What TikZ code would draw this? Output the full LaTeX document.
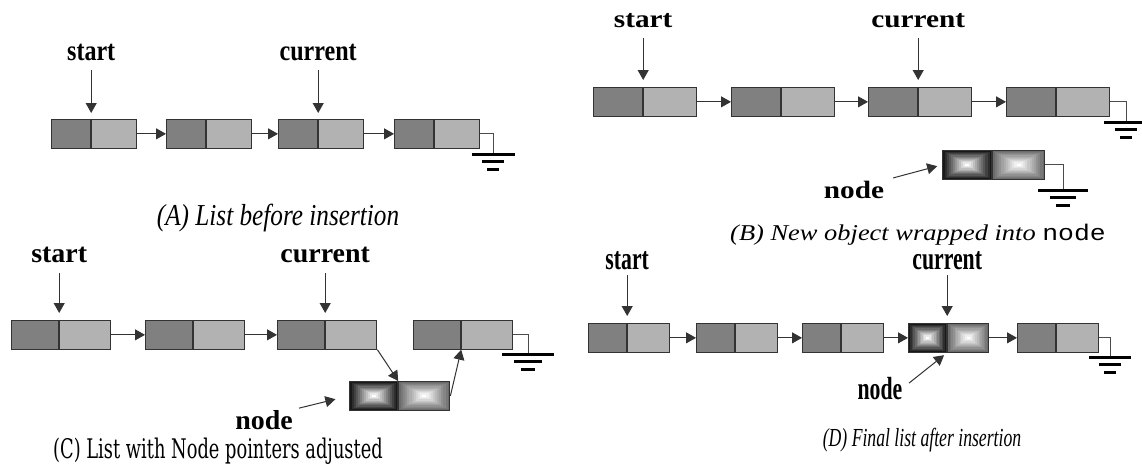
\documentclass[tikz,border=0pt]{standalone}
\usepackage{fontspec}
\usepackage{graphicx}
\setmainfont{Liberation Serif}
\newfontfamily\schoolC{DejaVu Serif}
\newfontfamily\codeB{Liberation Mono}
\usetikzlibrary{positioning,calc,arrows.meta}

% panel fonts: size, then horizontal squeeze of the scanned panels
\newcommand\sizeA{\fontsize{14.5pt}{17pt}\selectfont}
\newcommand\sizeB{\fontsize{12.5pt}{15pt}\selectfont}
\newcommand\sizeC{\fontsize{13.7pt}{16pt}\selectfont}
\newcommand\sizeD{\fontsize{16pt}{19pt}\selectfont}
\newcommand\sqA[1]{\scalebox{0.83}[1]{#1}}
\newcommand\sqB[1]{\scalebox{1.17}[1]{#1}}
\newcommand\sqC[1]{\scalebox{1.02}[1]{#1}}
\newcommand\sqD[1]{\scalebox{0.68}[1]{#1}}

\tikzset{
  dat/.style={draw=black!80, line width=0.6pt, fill=black!50, inner sep=0pt,
    minimum width=#1, minimum height=14.25pt, anchor=north west},
  nxt/.style={dat=#1, fill=black!30, anchor=west},
  shd/.style 2 args={draw=black!80, line width=0.6pt, inner sep=0pt,
    minimum width=#1, minimum height=14.25pt, anchor=north west,
    path picture={
      \foreach \k in {0,...,11}{
        \pgfmathtruncatemacro\tone{#2+(100-#2)*\k/11}
        \fill[white!\tone!black]
          ($(path picture bounding box.north west)!\k/24!(path picture bounding box.south east)$)
          rectangle
          ($(path picture bounding box.south east)!\k/24!(path picture bounding box.north west)$);
      }}},
  shdL/.style={shd={#1}{10}},
  shdR/.style={shd={#1}{42}, anchor=west},
  ptr/.style={-{Triangle[length=5pt,width=5.5pt]}, line width=0.5pt, draw=black!80},
  wire/.style={line width=0.5pt, draw=black!70},
  lbl/.style={inner sep=0pt, font=#1\bfseries},
  cap/.style={inner sep=0pt, anchor=base, font=#1\itshape},
  gnd/.pic={
    \draw[line width=1.5pt] (-#1,0) -- (#1,0)
      (-0.52*#1,7.5) -- (0.52*#1,7.5)
      (-0.27*#1,15) -- (0.27*#1,15);
  }
}

\begin{document}
\begin{tikzpicture}[x=0.5pt,y=-0.5pt]
  \useasboundingbox (0,0) rectangle (1142,467);

  % (A) list before insertion
  \foreach \i/\x in {1/51,2/166,3/278,4/394}{
    \node[dat=19.5pt] (a\i) at (\x,119) {};
    \node[nxt=22.5pt, right=0pt of a\i] (a\i p) {};
  }
  \foreach \i/\j in {1/2,2/3,3/4}
    \draw[ptr] (a\i p) -- (a\j);
  \node[lbl=\sizeA, above=29pt of a1.north east] (startA) {\sqA{start}};
  \node[lbl=\sizeA, above=29pt of a3.north east] (curA) {\sqA{current}};
  \draw[ptr, shorten <=4.5pt, shorten >=3pt] (startA) -- (a1.north east);
  \draw[ptr, shorten <=4.5pt, shorten >=3pt] (curA) -- (a3.north east);
  \coordinate (gA) at (493,154);
  \draw[wire] (a4p) -| (gA);
  \pic at (gA) {gnd=21.5};
  \node[cap=\fontsize{15.2pt}{18pt}\selectfont] (capA) at (278,225)
    {\sqA{(A) List before insertion}};

  % (B) new object wrapped into node
  \foreach \i/\x in {1/593,2/731,3/868,4/1006}{
    \node[dat=24.5pt] (b\i) at (\x,87) {};
    \node[nxt=26.5pt, right=0pt of b\i] (b\i p) {};
  }
  \foreach \i/\j in {1/2,2/3,3/4}
    \draw[ptr] (b\i p) -- (b\j);
  \node[lbl=\sizeB, above=29.5pt of b1.north east] (startB) {\sqB{start}};
  \node[lbl=\sizeB, above=29.5pt of b3.north east] (curB) {\sqB{current}};
  \draw[ptr, shorten <=5pt, shorten >=3.5pt] (startB) -- (b1.north east);
  \draw[ptr, shorten <=5pt, shorten >=3.5pt] (curB) -- (b3.north east);
  \coordinate (gB) at (1126,122);
  \draw[wire] (b4p) -| (gB);
  \pic at (gB) {gnd=22};
  \node[shdL=24.5pt] (eB) at (942,150) {};
  \node[shdR=26pt, right=0pt of eB] (eBp) {};
  \coordinate (gB2) at (1063,190);
  \draw[wire] (eBp) -| (gB2);
  \pic at (gB2) {gnd=25};
  \node[lbl=\sizeB, anchor=base] (nodeB) at (854,198) {\sqB{node}};
  \draw[ptr, shorten <=4.5pt, shorten >=2.5pt] (nodeB.north east) -- (eB.west);
  \node[cap=\fontsize{11.3pt}{13pt}\selectfont] (capB) at (918,240)
    {\sqB{(B) New object wrapped into {\codeB\upshape node}}};

  % (C) list with node pointers adjusted
  \foreach \i/\x in {1/11,2/145,3/277,4/413}{
    \node[dat=23.5pt] (c\i) at (\x,320) {};
    \node[nxt=25.5pt, right=0pt of c\i] (c\i p) {};
  }
  \foreach \i/\j in {1/2,2/3}
    \draw[ptr] (c\i p) -- (c\j);
  \node[lbl=\sizeC, above=28.5pt of c1.north east] (startC) {\sqC{start}};
  \node[lbl=\sizeC, above=28.5pt of c3.north east] (curC) {\sqC{current}};
  \draw[ptr, shorten <=5pt, shorten >=3.5pt] (startC) -- (c1.north east);
  \draw[ptr, shorten <=5pt, shorten >=3.5pt] (curC) -- (c3.north east);
  \coordinate (gC) at (528,354);
  \draw[wire] (c4p) -| (gC);
  \pic at (gC) {gnd=26};
  \node[shdL=24pt] (eC) at (349,381) {};
  \node[shdR=25.5pt, right=0pt of eC] (eCp) {};
  \draw[ptr] (c3p.south east) -- (eC.north east);
  \draw[ptr] (eCp.east) -- (c4.south east);
  \node[lbl=\sizeC, anchor=base] (nodeC) at (264,429) {\sqC{node}};
  \draw[ptr, shorten <=3pt, shorten >=7pt] (nodeC.north east) -- (eC.west);
  \node[inner sep=0pt, anchor=base, font=\schoolC\fontsize{13.5pt}{16pt}\selectfont] (capC)
    at (218,458) {\scalebox{0.66}[1]{(C) List with Node pointers adjusted}};

  % (D) final list after insertion
  \foreach \i/\x in {1/588,2/696,3/802,4/1017}{
    \node[dat=19pt] (d\i) at (\x,323) {};
    \node[nxt=21pt, right=0pt of d\i] (d\i p) {};
  }
  \node[shdL=19pt] (eD) at (908,323) {};
  \node[shdR=20.5pt, right=0pt of eD] (eDp) {};
  \foreach \i/\j in {1/2,2/3}
    \draw[ptr] (d\i p) -- (d\j);
  \draw[ptr] (d3p) -- (eD);
  \draw[ptr] (eDp) -- (d4);
  \node[lbl=\sizeD, above=26.5pt of d1.north east] (startD) {\sqD{start}};
  \node[lbl=\sizeD, above=26.5pt of eD.north east] (curD) {\sqD{current}};
  \draw[ptr, shorten <=2.5pt, shorten >=3.5pt] (startD) -- (d1.north east);
  \draw[ptr, shorten <=2.5pt, shorten >=3.5pt] (curD) -- (eD.north east);
  \coordinate (gD) at (1110,357);
  \draw[wire] (d4p) -| (gD);
  \pic at (gD) {gnd=21};
  \node[lbl=\sizeD, anchor=base] (nodeD) at (880,399) {\sqD{node}};
  \draw[ptr, shorten <=4pt, shorten >=2pt] (nodeD.east) -- (eD.south east);
  \node[cap=\fontsize{13pt}{15pt}\selectfont] (capD) at (922,446)
    {\sqD{(D) Final list after insertion}};
\end{tikzpicture}
\end{document}
